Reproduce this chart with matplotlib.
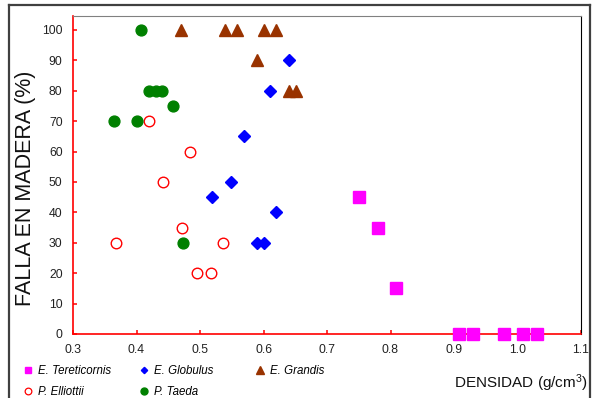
import matplotlib
matplotlib.use("Agg")
import matplotlib.pyplot as plt
from matplotlib.lines import Line2D

plt.rcParams['font.family'] = ['Liberation Sans', 'DejaVu Sans']
plt.rcParams['mathtext.fontset'] = 'custom'
plt.rcParams['mathtext.rm'] = 'Liberation Sans'
plt.rcParams['mathtext.it'] = 'Liberation Sans:italic'

# ---- data ----
tereticornis_x = [0.750, 0.780, 0.809, 0.908, 0.930, 0.979, 1.009, 1.030]
tereticornis_y = [45, 35, 15, 0, 0, 0, 0, 0]

globulus_x = [0.640, 0.610, 0.569, 0.549, 0.519, 0.620, 0.590, 0.601]
globulus_y = [90, 80, 65, 50, 45, 40, 30, 30]

grandis_x = [0.470, 0.540, 0.559, 0.600, 0.620, 0.590, 0.640, 0.651]
grandis_y = [100, 100, 100, 100, 100, 90, 80, 80]

elliottii_x = [0.420, 0.484, 0.441, 0.471, 0.367, 0.536, 0.495, 0.518]
elliottii_y = [70, 60, 50, 35, 30, 30, 20, 20]

taeda_x = [0.407, 0.420, 0.430, 0.440, 0.457, 0.364, 0.400, 0.473]
taeda_y = [100, 80, 80, 80, 75, 70, 70, 30]

labels = ['E. Tereticornis', 'E. Globulus', 'E. Grandis', 'P. Elliottii', 'P. Taeda']
x_ticks = [0.3, 0.4, 0.5, 0.6, 0.7, 0.8, 0.9, 1.0, 1.1]
y_ticks = [0, 10, 20, 30, 40, 50, 60, 70, 80, 90, 100]

# ---- figure ----
fig = plt.figure(figsize=(5.95, 3.98), dpi=100)
ax = fig.add_axes([73/595, 1-334/398, 508/595, 318/398])

c_ter = '#FF00FF'
c_glo = '#0000FF'
c_gra = '#993300'
c_ell = '#FF0000'
c_tae = '#008000'

ax.plot(tereticornis_x, tereticornis_y, linestyle='none', marker='s', ms=8.4,
        color=c_ter, mec=c_ter, clip_on=False, zorder=3)
ax.plot(globulus_x, globulus_y, linestyle='none', marker='D', ms=6.0,
        color=c_glo, mec=c_glo, clip_on=False, zorder=3)
ax.plot(grandis_x, grandis_y, linestyle='none', marker='^', ms=8.4,
        color=c_gra, mec=c_gra, clip_on=False, zorder=3)
ax.plot(elliottii_x, elliottii_y, linestyle='none', marker='o', ms=7.6,
        mfc='white', mec=c_ell, mew=1.0, clip_on=False, zorder=3)
ax.plot(taeda_x, taeda_y, linestyle='none', marker='o', ms=7.8,
        color=c_tae, mec=c_tae, clip_on=False, zorder=3)

ax.set_xlim(0.3, 1.1)
ax.set_ylim(0, 104.6)
ax.set_xticks(x_ticks)
ax.set_xticklabels([f'{v:.1f}' for v in x_ticks])
ax.set_yticks(y_ticks)
ax.set_yticklabels([str(v) for v in y_ticks])

for s in ['left', 'bottom']:
    ax.spines[s].set_color('#FF0000')
    ax.spines[s].set_linewidth(1.2)
ax.spines['top'].set_color('#808080')
ax.spines['top'].set_linewidth(0.8)
ax.spines['right'].set_color('#000000')
ax.spines['right'].set_linewidth(0.8)

ax.tick_params(axis='both', direction='in', color='#FF0000', width=1.1, length=3,
               labelsize=8.8, labelcolor='#222222')
ax.tick_params(axis='y', pad=7.5)
ax.tick_params(axis='x', pad=7)
ax.tick_params(top=False, right=False)

ax.set_ylabel('FALLA EN MADERA (%)', fontsize=15.5, color='#111111', va='center')
ax.yaxis.set_label_coords((26-73)/508, (334-188.5)/318)
ax.set_xlabel('DENSIDAD (g/cm$^3$)', fontsize=11, color='#111111', ha='right', va='center')
ax.xaxis.set_label_coords((588-73)/508, (334-383)/318)

# ---- legends (three columns) ----
h_ter = Line2D([], [], ls='none', marker='s', ms=4.5, color=c_ter)
h_glo = Line2D([], [], ls='none', marker='D', ms=3.2, color=c_glo)
h_gra = Line2D([], [], ls='none', marker='^', ms=5.5, color=c_gra)
h_ell = Line2D([], [], ls='none', marker='o', ms=4.8, mfc='white', mec=c_ell, mew=0.9)
h_tae = Line2D([], [], ls='none', marker='o', ms=5.0, color=c_tae)

cols = [([h_ter, h_ell], [labels[0], labels[3]], 23),
        ([h_glo, h_tae], [labels[1], labels[4]], 139.5),
        ([h_gra], [labels[2]], 255.5)]
for hs, ls_, xpx in cols:
    fig.legend(hs, ls_, loc='upper left', bbox_to_anchor=(xpx/595, 1-365/398),
               frameon=False, handlelength=0.8, handletextpad=0.5, borderpad=0,
               borderaxespad=0, labelspacing=0.75,
               prop={'style': 'italic', 'size': 8.3})

# ---- outer frame ----
fc = '#404040'
fig.add_artist(Line2D([9/595, 9/595], [0, 1-5/398], color=fc, lw=1.6, transform=fig.transFigure))
fig.add_artist(Line2D([9/595, 590/595], [1-5/398, 1-5/398], color=fc, lw=1.6, transform=fig.transFigure))
fig.add_artist(Line2D([590/595, 590/595], [0, 1-5/398], color=fc, lw=1.6, transform=fig.transFigure))

fig.savefig('out.png', dpi=100)
